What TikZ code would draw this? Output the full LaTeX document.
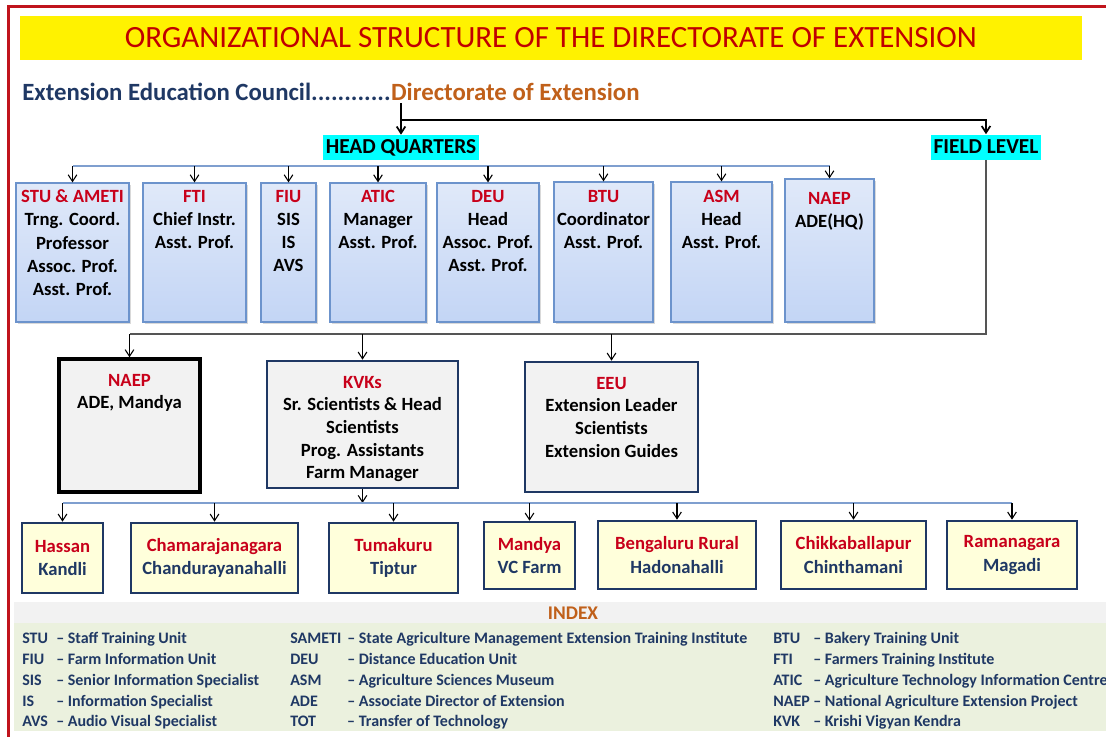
\documentclass[tikz,border=0pt]{standalone}
\usepackage{fontspec}
\setmainfont{Carlito}
\usetikzlibrary{positioning, arrows.meta, shadows}
\definecolor{framered}{HTML}{C0141C}
\definecolor{titlered}{HTML}{C00000}
\definecolor{boxred}{HTML}{C8001A}
\definecolor{navy}{HTML}{1F3864}
\definecolor{dirbrown}{HTML}{C0601A}
\definecolor{levelcyan}{HTML}{00FFFF}
\definecolor{hqedge}{HTML}{6C93CC}
\definecolor{hqtop}{HTML}{E0E9F9}
\definecolor{hqbot}{HTML}{C3D5F5}
\definecolor{busblue}{HTML}{7F9FCF}
\definecolor{linegray}{HTML}{555555}
\definecolor{boxgray}{HTML}{F2F2F2}
\definecolor{placefill}{HTML}{FFFFDB}
\definecolor{indexgray}{HTML}{F2F2F2}
\definecolor{indexgreen}{HTML}{EBF1DE}
\newdimen\pxu \pxu=0.75pt
% box text kept at the top of a fixed box: width, height, top gap (px)
\newcommand{\topbox}[4]{\begin{minipage}[t][#2\pxu][t]{#1\pxu}\centering\vspace*{#3\pxu}#4\end{minipage}}

\begin{document}
\begin{tikzpicture}[x=0.75pt, y=-0.75pt,
    boxsize/.style 2 args={minimum width=#1*0.75pt, minimum height=#2*0.75pt},
    titlebar/.style={fill=yellow, boxsize={1062}{44}, inner sep=0pt, text=titlered, font=\fontsize{23.2}{27}\selectfont},
    council/.style={inner xsep=0pt, inner ysep=2pt, text=navy, font=\bfseries\fontsize{18.6}{21}\selectfont},
    levelbox/.style={fill=levelcyan, inner xsep=2pt, inner ysep=0pt, minimum height=25*0.75pt, font=\bfseries\fontsize{16}{18}\selectfont},
    hqbox/.style={draw=hqedge, line width=0.9pt, top color=hqtop, bottom color=hqbot, inner sep=0pt, font=\bfseries\fontsize{14}{17.3}\selectfont, drop shadow={shadow xshift=1.2pt, shadow yshift=-1.2pt, opacity=0.3}},
    midbox/.style={draw=navy, line width=2pt, fill=boxgray, inner sep=0pt, font=\bfseries\fontsize{14}{17}\selectfont},
    placebox/.style={draw=navy, line width=2pt, fill=placefill, align=center, inner sep=0pt, text=navy, font=\bfseries\fontsize{14}{17.3}\selectfont},
    feed/.style={-{Straight Barb[length=5pt,width=6.5pt]}, line width=0.8pt, black},
    mainline/.style={feed, line width=1.3pt},
    busline/.style={draw=busblue, line width=1.6pt},
    fieldline/.style={draw=linegray, line width=1.3pt},
    idx/.style={anchor=base west, inner sep=0pt, text=navy, font=\bfseries\fontsize{12}{14}\selectfont}
]
\useasboundingbox (0,0) rectangle (1106,736);
\draw[framered, line width=1.6pt] (1110,6.5) -- (8.5,6.5) -- (8.5,740);

% title and council line
\node[titlebar] (title) at (551,38) {ORGANIZATIONAL STRUCTURE OF THE DIRECTORATE OF EXTENSION};
\node[council, anchor=base west] (eec) at (22,100) {Extension Education Council............};
\node[council, text=dirbrown, base right=0pt of eec] (dir) {Directorate of Extension};

\node[levelbox] (hq) at (401,147.5) {HEAD QUARTERS};
\node[levelbox] (field) at (986,147) {FIELD LEVEL};
\coordinate (split) at (401,120);
\draw[mainline] (hq.north |- dir.south) -- (hq.north);
\draw[mainline] (split) -| (field.north);

% head quarters units
\node[hqbox] (stu) at (72.5,252.5) {\topbox{113}{139}{7}{{\color{boxred}STU \& AMETI}\\Trng. Coord.\\Professor\\Assoc. Prof.\\Asst. Prof.}};
\node[hqbox] (fti) at (194.5,252.5) {\topbox{103}{139}{7}{{\color{boxred}FTI}\\Chief Instr.\\Asst. Prof.}};
\node[hqbox] (fiu) at (288.5,252.5) {\topbox{55}{139}{7}{{\color{boxred}FIU}\\SIS\\IS\\AVS}};
\node[hqbox] (atic) at (378,252.5) {\topbox{96}{139}{7}{{\color{boxred}ATIC}\\Manager\\Asst. Prof.}};
\node[hqbox] (deu) at (488,252.5) {\topbox{102}{139}{7}{{\color{boxred}DEU}\\Head\\Assoc. Prof.\\Asst. Prof.}};
\node[hqbox] (btu) at (603.5,252) {\topbox{99}{140}{8}{{\color{boxred}BTU}\\Coordinator\\Asst. Prof.}};
\node[hqbox] (asm) at (721.5,252) {\topbox{101}{140}{8}{{\color{boxred}ASM}\\Head\\Asst. Prof.}};
\node[hqbox] (naephq) at (829.5,250.5) {\topbox{89}{143}{13}{{\color{boxred}NAEP}\\ADE(HQ)}};

\coordinate (hqbus) at (0,166);
\draw[busline] (stu.north |- hqbus) -- (naephq.north |- hqbus);
\draw[feed] (stu.north |- hqbus) -- (stu.north);
\draw[feed] (fti.north |- hqbus) -- (fti.north);
\draw[feed] (fiu.north |- hqbus) -- (fiu.north);
\draw[feed] (atic.north |- hqbus) -- (atic.north);
\draw[feed] (deu.north |- hqbus) -- (deu.north);
\draw[feed] (btu.north |- hqbus) -- (btu.north);
\draw[feed] (asm.north |- hqbus) -- (asm.north);
\draw[feed] (naephq.north |- hqbus) -- (naephq.north);

% field level units
\node[midbox, draw=black, line width=2.6pt] (naepf) at (129.5,425.5) {\topbox{141}{133}{15}{{\color{boxred}NAEP}\\ADE, Mandya}};
\node[midbox] (kvk) at (362.5,424.5) {\topbox{191}{127}{15}{{\color{boxred}KVKs}\\Sr. Scientists \& Head\\Scientists\\Prog. Assistants\\Farm Manager}};
\node[midbox] (eeu) at (611.5,427) {\topbox{173}{130}{15}{{\color{boxred}EEU}\\Extension Leader\\Scientists\\Extension Guides}};

\coordinate (fieldbus) at (0,334);
\draw[fieldline] (field.south) |- (naepf.north |- fieldbus);
\draw[feed] (naepf.north |- fieldbus) -- (naepf.north);
\draw[feed] (kvk.north |- fieldbus) -- (kvk.north);
\draw[feed] (eeu.north |- fieldbus) -- (eeu.north);

% KVK places
\node[placebox, boxsize={81}{70}] (hassan) at (62.5,558) {{\color{boxred}Hassan}\\Kandli};
\node[placebox, boxsize={167}{70}] (chama) at (214.5,558) {{\color{boxred}Chamarajanagara}\\Chandurayanahalli};
\node[placebox, boxsize={129}{70}] (tumak) at (393.5,558) {{\color{boxred}Tumakuru}\\Tiptur};
\node[placebox, boxsize={91}{67}] (mandya) at (529.5,555.5) {{\color{boxred}Mandya}\\VC Farm};
\node[placebox, boxsize={158}{68}] (bengal) at (677,555) {{\color{boxred}Bengaluru Rural}\\Hadonahalli};
\node[placebox, boxsize={145}{68}] (chikka) at (853.5,555) {{\color{boxred}Chikkaballapur}\\Chinthamani};
\node[placebox, boxsize={130}{68}] (rama) at (1012,555) {{\color{boxred}Ramanagara}\\Magadi};

\coordinate (kvkbus) at (0,503);
\draw[feed] (kvk.south) -- (kvk.south |- kvkbus);
\draw[busline] (hassan.north |- kvkbus) -- (rama.north |- kvkbus);
\draw[feed] (hassan.north |- kvkbus) -- (hassan.north);
\draw[feed] (chama.north |- kvkbus) -- (chama.north);
\draw[feed] (tumak.north |- kvkbus) -- (tumak.north);
\draw[feed] (mandya.north |- kvkbus) -- (mandya.north);
\draw[feed] (bengal.north |- kvkbus) -- (bengal.north);
\draw[feed] (chikka.north |- kvkbus) -- (chikka.north);
\draw[feed] (rama.north |- kvkbus) -- (rama.north);

% index
\fill[indexgray] (14,602) rectangle (1106,623);
\fill[indexgreen] (14,623) rectangle (1106,731);
\node[text=dirbrown, font=\bfseries\fontsize{14.5}{16}\selectfont] (index) at (573,613) {INDEX};

\node[idx] (iSTU) at (22,643) {\makebox[34\pxu][l]{STU}– Staff Training Unit};
\node[idx] (iFIU) at (22,664) {\makebox[34\pxu][l]{FIU}– Farm Information Unit};
\node[idx] (iSIS) at (22,685) {\makebox[34\pxu][l]{SIS}– Senior Information Specialist};
\node[idx] (iIS) at (22,706) {\makebox[34\pxu][l]{IS}– Information Specialist};
\node[idx] (iAVS) at (22,726) {\makebox[34\pxu][l]{AVS}– Audio Visual Specialist};

\node[idx] (iSAMETI) at (290,643) {\makebox[57\pxu][l]{SAMETI}– State Agriculture Management Extension Training Institute};
\node[idx] (iDEU) at (290,664) {\makebox[57\pxu][l]{DEU}– Distance Education Unit};
\node[idx] (iASM) at (290,685) {\makebox[57\pxu][l]{ASM}– Agriculture Sciences Museum};
\node[idx] (iADE) at (290,706) {\makebox[57\pxu][l]{ADE}– Associate Director of Extension};
\node[idx] (iTOT) at (290,726) {\makebox[57\pxu][l]{TOT}– Transfer of Technology};

\node[idx] (iBTU) at (773,643) {\makebox[40\pxu][l]{BTU}– Bakery Training Unit};
\node[idx] (iFTI) at (773,664) {\makebox[40\pxu][l]{FTI}– Farmers Training Institute};
\node[idx] (iATIC) at (773,685) {\makebox[40\pxu][l]{ATIC}– Agriculture Technology Information Centre};
\node[idx] (iNAEP) at (773,706) {\makebox[40\pxu][l]{NAEP}– National Agriculture Extension Project};
\node[idx] (iKVK) at (773,726) {\makebox[40\pxu][l]{KVK}– Krishi Vigyan Kendra};
\end{tikzpicture}
\end{document}
